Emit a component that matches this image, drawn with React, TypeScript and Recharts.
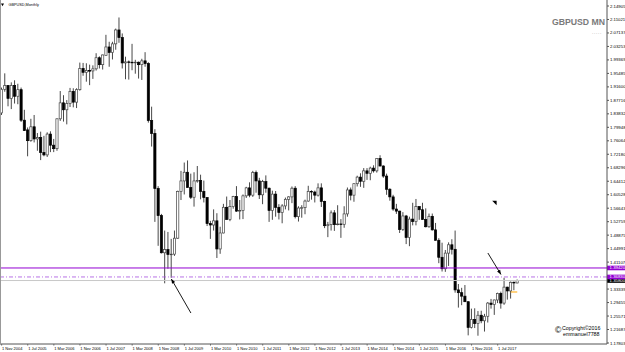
import React from 'react';
import { ComposedChart, Bar, XAxis, YAxis, ReferenceLine, ReferenceDot } from 'recharts';

const FONT = '"Liberation Sans", Arial, sans-serif';
const MONTH_NAMES = ['Jan', 'Feb', 'Mar', 'Apr', 'May', 'Jun', 'Jul', 'Aug', 'Sep', 'Oct', 'Nov', 'Dec'];
const START_YEAR = 2004;
const START_MONTH = 10; // November
const SHIFT_BARS = 27; // empty space to the right of the last bar

// GBPUSD monthly OHLC, Nov 2004 .. Jan 2018
const open = [
  1.8410, 1.9090,
  1.9200, 1.8830, 1.9200, 1.8890, 1.9080, 1.8200, 1.7920, 1.7610, 1.8010, 1.7660, 1.7700, 1.7270,
  1.7200, 1.7800, 1.7480, 1.7380, 1.8240, 1.8700, 1.8500, 1.8680, 1.9030, 1.8720, 1.9080, 1.9690,
  1.9580, 1.9630, 1.9620, 1.9680, 2.0000, 1.9800, 2.0070, 2.0310, 2.0150, 2.0400, 2.0800, 2.0580,
  1.9850, 1.9880, 1.9870, 1.9860, 1.9870, 1.9800, 1.9910, 1.9830, 1.8190, 1.7820, 1.6230, 1.5450,
  1.4380, 1.4470, 1.4330, 1.4340, 1.4800, 1.6150, 1.6450, 1.6700, 1.6260, 1.5980, 1.6450, 1.6460,
  1.6150, 1.5970, 1.5220, 1.5180, 1.5300, 1.4490, 1.4950, 1.5690, 1.5340, 1.5710, 1.6000, 1.5580,
  1.5600, 1.6020, 1.6250, 1.6040, 1.6690, 1.6450, 1.6050, 1.6430, 1.6240, 1.5600, 1.6070, 1.5690,
  1.5540, 1.5730, 1.5920, 1.5990, 1.6240, 1.5420, 1.5670, 1.5680, 1.5870, 1.6150, 1.6130, 1.6040,
  1.6250, 1.5860, 1.5160, 1.5190, 1.5530, 1.5190, 1.5210, 1.5200, 1.5500, 1.6190, 1.6040, 1.6370,
  1.6560, 1.6440, 1.6740, 1.6670, 1.6820, 1.6740, 1.7100, 1.6880, 1.6590, 1.6210, 1.5990, 1.5640,
  1.5580, 1.5050, 1.5440, 1.4820, 1.5350, 1.5280, 1.5710, 1.5620, 1.5340, 1.5130, 1.5430, 1.5040,
  1.4740, 1.4250, 1.3920, 1.4370, 1.4610, 1.4480, 1.3310, 1.3230, 1.3130, 1.2970, 1.2230, 1.2460,
  1.2340, 1.2580, 1.2420, 1.2550, 1.2930, 1.2890, 1.3020, 1.3210, 1.2930, 1.3390, 1.3280, 1.3530,
  1.3510,
];
const high = [
  1.9140, 1.9550,
  1.9210, 1.9290, 1.9350, 1.9250, 1.9140, 1.8500, 1.7990, 1.8240, 1.8350, 1.7830, 1.7870, 1.7750,
  1.7850, 1.7880, 1.7660, 1.8250, 1.9040, 1.8920, 1.8780, 1.9130, 1.9120, 1.9120, 1.9860, 1.9850,
  1.9840, 1.9800, 1.9780, 2.0130, 2.0040, 2.0090, 2.0660, 2.0460, 2.0460, 2.0840, 2.1160, 2.0700,
  2.0030, 1.9920, 2.0400, 1.9940, 1.9890, 1.9970, 2.0160, 1.9870, 1.8590, 1.7940, 1.6300, 1.5500,
  1.5020, 1.4980, 1.4780, 1.5020, 1.6170, 1.6740, 1.6980, 1.7040, 1.6660, 1.6700, 1.6880, 1.6630,
  1.6460, 1.5980, 1.5300, 1.5630, 1.5520, 1.5130, 1.5790, 1.6000, 1.5900, 1.6020, 1.6300, 1.5900,
  1.6060, 1.6280, 1.6410, 1.6740, 1.6750, 1.6540, 1.6480, 1.6610, 1.6260, 1.6170, 1.6160, 1.5780,
  1.5780, 1.5970, 1.6010, 1.6290, 1.6300, 1.5720, 1.5750, 1.5910, 1.6310, 1.6180, 1.6170, 1.6380,
  1.6380, 1.5880, 1.5270, 1.5600, 1.5610, 1.5750, 1.5350, 1.5720, 1.6260, 1.6260, 1.6380, 1.6600,
  1.6670, 1.6820, 1.6820, 1.6860, 1.6900, 1.7110, 1.7190, 1.6900, 1.6660, 1.6240, 1.6050, 1.5790,
  1.5590, 1.5550, 1.5470, 1.5420, 1.5820, 1.5930, 1.5720, 1.5820, 1.5660, 1.5510, 1.5510, 1.5240,
  1.4800, 1.4670, 1.4460, 1.4680, 1.4770, 1.5020, 1.3480, 1.3370, 1.3450, 1.2980, 1.2770, 1.2780,
  1.2700, 1.2710, 1.2620, 1.2960, 1.3050, 1.3030, 1.3230, 1.3260, 1.3660, 1.3400, 1.3550, 1.3550,
  1.3610,
];
const low = [
  1.8350, 1.9020,
  1.8600, 1.8520, 1.8680, 1.8660, 1.8150, 1.7890, 1.7160, 1.7580, 1.7560, 1.7320, 1.7050, 1.7160,
  1.7140, 1.7280, 1.7280, 1.7320, 1.8180, 1.8160, 1.8080, 1.8580, 1.8570, 1.8550, 1.9050, 1.9480,
  1.9310, 1.9210, 1.9390, 1.9630, 1.9690, 1.9660, 2.0060, 1.9740, 1.9950, 2.0230, 2.0430, 1.9690,
  1.9380, 1.9370, 1.9640, 1.9540, 1.9400, 1.9360, 1.9740, 1.8130, 1.7440, 1.5270, 1.4580, 1.4360,
  1.3500, 1.3920, 1.3660, 1.4290, 1.4780, 1.5900, 1.6060, 1.6260, 1.5930, 1.5710, 1.6400, 1.5920,
  1.5830, 1.5150, 1.4780, 1.5020, 1.4230, 1.4350, 1.4940, 1.5330, 1.5290, 1.5650, 1.5560, 1.5340,
  1.5350, 1.5960, 1.5980, 1.5990, 1.6110, 1.5930, 1.5780, 1.6110, 1.5270, 1.5330, 1.5420, 1.5340,
  1.5230, 1.5630, 1.5600, 1.5810, 1.5370, 1.5280, 1.5390, 1.5490, 1.5850, 1.5910, 1.5830, 1.6000,
  1.5700, 1.5090, 1.4830, 1.5020, 1.5010, 1.5170, 1.4810, 1.5100, 1.5420, 1.5890, 1.5850, 1.6290,
  1.6280, 1.6250, 1.6480, 1.6470, 1.6690, 1.6690, 1.6870, 1.6540, 1.6050, 1.5880, 1.5590, 1.5500,
  1.4950, 1.5010, 1.4630, 1.4570, 1.5170, 1.5170, 1.5330, 1.5330, 1.5110, 1.5100, 1.5020, 1.4730,
  1.4080, 1.3840, 1.3830, 1.4000, 1.4330, 1.3230, 1.2800, 1.2870, 1.2960, 1.2000, 1.2200, 1.2210,
  1.1990, 1.2350, 1.2110, 1.2370, 1.2770, 1.2590, 1.2930, 1.2770, 1.2880, 1.3030, 1.3060, 1.3300,
  1.3500,
];
const close = [
  1.9090, 1.9200,
  1.8830, 1.9200, 1.8890, 1.9080, 1.8200, 1.7900, 1.7610, 1.8010, 1.7660, 1.7700, 1.7270, 1.7200,
  1.7800, 1.7480, 1.7380, 1.8240, 1.8700, 1.8500, 1.8680, 1.9030, 1.8720, 1.9080, 1.9690, 1.9580,
  1.9630, 1.9620, 1.9680, 2.0000, 1.9800, 2.0080, 2.0310, 2.0150, 2.0400, 2.0800, 2.0580, 1.9850,
  1.9880, 1.9870, 1.9860, 1.9870, 1.9800, 1.9910, 1.9830, 1.8190, 1.7820, 1.6230, 1.5450, 1.4380,
  1.4470, 1.4330, 1.4340, 1.4800, 1.6150, 1.6450, 1.6700, 1.6260, 1.5980, 1.6450, 1.6460, 1.6150,
  1.5970, 1.5220, 1.5180, 1.5300, 1.4490, 1.4950, 1.5690, 1.5340, 1.5710, 1.6000, 1.5580, 1.5600,
  1.6020, 1.6250, 1.6040, 1.6690, 1.6450, 1.6050, 1.6430, 1.6240, 1.5600, 1.6070, 1.5690, 1.5540,
  1.5730, 1.5920, 1.5990, 1.6240, 1.5420, 1.5670, 1.5680, 1.5870, 1.6150, 1.6130, 1.6040, 1.6250,
  1.5860, 1.5160, 1.5190, 1.5530, 1.5190, 1.5210, 1.5200, 1.5500, 1.6190, 1.6040, 1.6370, 1.6560,
  1.6440, 1.6740, 1.6670, 1.6820, 1.6740, 1.7100, 1.6880, 1.6590, 1.6210, 1.5990, 1.5640, 1.5580,
  1.5050, 1.5440, 1.4820, 1.5350, 1.5280, 1.5710, 1.5620, 1.5340, 1.5130, 1.5430, 1.5040, 1.4740,
  1.4250, 1.3920, 1.4370, 1.4610, 1.4480, 1.3310, 1.3230, 1.3130, 1.2970, 1.2230, 1.2460, 1.2340,
  1.2580, 1.2420, 1.2550, 1.2930, 1.2890, 1.3020, 1.3210, 1.2930, 1.3390, 1.3280, 1.3530, 1.3510,
  1.3580,
];

const yTicks = [
  2.14905, 2.11021, 2.07137, 2.03253, 1.99369, 1.95485, 1.916, 1.87716, 1.83832, 1.79948,
  1.76064, 1.7218, 1.68296, 1.64412, 1.60528, 1.56643, 1.52759, 1.48875, 1.44991, 1.41107,
  1.33339, 1.29455, 1.25571, 1.21687, 1.17803,
];
const yDomain = [1.17512, 2.16634];

// horizontal levels: solid purple, dash-dot purple, bid
const levelSolid = 1.3942;
const levelDashDot = 1.3683;
const bidPrice = 1.358;
const orangeLevel = 1.325;

const dates = Array.from({ length: open.length + SHIFT_BARS }, (_, i) => {
  const m = START_MONTH + i;
  return `1 ${MONTH_NAMES[m % 12]} ${START_YEAR + Math.floor(m / 12)}`;
});
const data = dates.map((date, i) =>
  i < open.length ? { date, o: open[i], h: high[i], l: low[i], c: close[i] } : { date }
);
const hasBar = new Set(dates.slice(0, open.length));

// annotation objects (data coordinates)
const arrow1 = [{ x: dates[52], y: 1.3624 }, { x: dates[58], y: 1.2644 }]; // head first
const arrow2 = [{ x: dates[153], y: 1.3754 }, { x: dates[149], y: 1.4373 }]; // head first
const markerPoint = { x: dates[151], y: 1.5814 };

const Candle = (props: any) => {
  const { x, width, payload } = props;
  let { y, height } = props;
  if (!payload || payload.o == null || y == null || isNaN(y)) return <g />;
  if (height < 0) {
    y += height;
    height = -height;
  }
  const { o, h, l, c } = payload;
  const ratio = h > l ? height / (h - l) : 0;
  const cx = x + width / 2;
  const top = y + (h - Math.max(o, c)) * ratio;
  const bot = y + (h - Math.min(o, c)) * ratio;
  const bull = c >= o;
  const bw = 2.2;
  return (
    <g>
      <line x1={cx} x2={cx} y1={y} y2={y + height} stroke="#333" strokeWidth={0.9} />
      <rect
        x={cx - bw / 2}
        y={top}
        width={bw}
        height={Math.max(bot - top, 0.6)}
        fill={bull ? '#fff' : '#000'}
        stroke={bull ? '#444' : '#000'}
        strokeWidth={0.7}
      />
    </g>
  );
};

const XTick = (props: any) => {
  const { x, y, payload } = props;
  if (!payload || !hasBar.has(payload.value)) return <g />;
  return (
    <g>
      <line x1={x} x2={x} y1={y} y2={y + 1.6} stroke="#555" strokeWidth={0.8} />
      <text x={x + 0.4} y={y + 5.6} fontSize={4} fontFamily={FONT} fill="#000">
        {payload.value}
      </text>
    </g>
  );
};

const PriceTag = (props: any) => {
  const { viewBox, text, fill } = props;
  if (!viewBox) return <g />;
  const x = viewBox.x + viewBox.width;
  return (
    <g>
      <rect x={x} y={viewBox.y - 2.3} width={18} height={4.6} fill={fill} />
      <text x={x + 2.6} y={viewBox.y + 1.5} fontSize={4.3} fill="#fff" fontFamily={FONT}>
        {text}
      </text>
    </g>
  );
};

const makeArrow = (props: any) => {
  const { x1, y1, x2, y2 } = props;
  if ([x1, y1, x2, y2].some((v) => v == null || isNaN(v))) return <g />;
  const ang = Math.atan2(y1 - y2, x1 - x2);
  const L = 4.5;
  const W = 1.8;
  const bx = x1 - L * Math.cos(ang);
  const by = y1 - L * Math.sin(ang);
  const px = -Math.sin(ang) * W;
  const py = Math.cos(ang) * W;
  return (
    <g>
      <line x1={x1} y1={y1} x2={x2} y2={y2} stroke="#000" strokeWidth={0.9} />
      <polygon points={`${x1},${y1} ${bx + px},${by + py} ${bx - px},${by - py}`} fill="#000" />
    </g>
  );
};

const Marker = (props: any) => {
  const { cx, cy } = props;
  if (cx == null || cy == null) return <g />;
  return <polygon points={`${cx - 2.2},${cy - 2.2} ${cx + 2.2},${cy - 2.2} ${cx + 2.2},${cy + 2.2}`} fill="#000" />;
};

export default function App() {
  return (
    <div style={{ position: 'relative', width: 625, height: 352, background: '#fff' }}>
      <style>{`body{margin:0;background:#fff}`}</style>
      <ComposedChart
        width={625}
        height={352}
        data={data}
        margin={{ top: 0, right: 0, bottom: 0, left: 0 }}
        barCategoryGap={0}
        barGap={0}
      >
        <XAxis
          dataKey="date"
          interval={7}
          height={8}
          tickSize={0}
          tickMargin={0}
          tickLine={false}
          axisLine={{ stroke: '#555', strokeWidth: 1 }}
          tick={<XTick />}
        />
        <YAxis
          orientation="right"
          type="number"
          domain={yDomain}
          allowDataOverflow
          ticks={yTicks}
          width={18}
          tickSize={2}
          tickMargin={1}
          tickLine={{ stroke: '#555' }}
          axisLine={{ stroke: '#555', strokeWidth: 1 }}
          tick={{ fontSize: 4.3, fill: '#000', fontFamily: FONT }}
          tickFormatter={(v: number) => v.toFixed(5)}
        />
        <Bar
          dataKey={(d: any) => (d.h != null ? [d.l, d.h] : null)}
          shape={Candle}
          isAnimationActive={false}
        />
        <ReferenceLine
          y={bidPrice}
          stroke="#c8c8c8"
          strokeWidth={1}
          label={<PriceTag text={bidPrice.toFixed(5)} fill="#000" />}
        />
        <ReferenceLine
          y={levelDashDot}
          stroke="#a64fe0"
          strokeWidth={0.8}
          strokeDasharray="4 2 1 2"
          label={<PriceTag text={levelDashDot.toFixed(5)} fill="#9400d3" />}
        />
        <ReferenceLine
          y={levelSolid}
          stroke="#9400d3"
          strokeWidth={1}
          label={<PriceTag text={levelSolid.toFixed(5)} fill="#9400d3" />}
        />
        <ReferenceLine
          segment={[{ x: dates[156], y: orangeLevel }, { x: dates[158], y: orangeLevel }]}
          stroke="#ffa500"
          strokeWidth={1}
        />
        <ReferenceLine segment={arrow1} shape={makeArrow} />
        <ReferenceLine segment={arrow2} shape={makeArrow} />
        <ReferenceDot x={markerPoint.x} y={markerPoint.y} shape={Marker} />
      </ComposedChart>
      <svg
        width={625}
        height={352}
        style={{ position: 'absolute', left: 0, top: 0, pointerEvents: 'none' }}
      >
        <line x1={0.5} x2={0.5} y1={0} y2={344} stroke="#999" strokeWidth={1} />
        <polygon points="1,3.6 4,3.6 2.5,6.2" fill="#000" />
        <text x={8.5} y={6.4} fontSize={3.8} fontFamily={FONT} fill="#000">
          GBPUSD,Monthly
        </text>
        <text x={605} y={24.6} fontSize={8.7} fontWeight="bold" fontFamily={FONT} fill="#7a7a7a" textAnchor="end">
          GBPUSD MN
        </text>
        <text x={602} y={34} fontSize={5} fontFamily={FONT} fill="#999" textAnchor="end" letterSpacing={0.6}>
          .....
        </text>
        <text x={555} y={332.6} fontSize={8.6} fontFamily={FONT} fill="#000">
          ©
        </text>
        <text x={562} y={329.5} fontSize={5.3} fontFamily={FONT} fill="#000">
          Copyright©2016
        </text>
        <text x={563} y={336} fontSize={5.3} fontFamily={FONT} fill="#000">
          emmanuel7788
        </text>
      </svg>
    </div>
  );
}
